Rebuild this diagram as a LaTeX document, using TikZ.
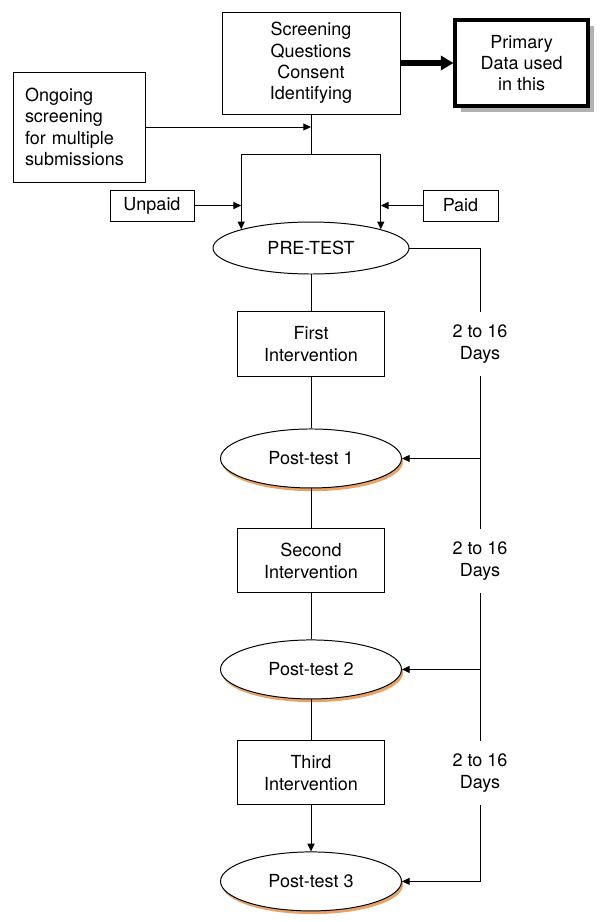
\documentclass[tikz,border=0pt]{standalone}
\usepackage{fontspec}
\setmainfont{TeX Gyre Heros}
\usetikzlibrary{positioning,shapes.geometric,arrows.meta,shadows,calc}

\definecolor{testshade}{RGB}{233,163,100}

\begin{document}
\begin{tikzpicture}[
    font=\fontsize{12.8pt}{15.2pt}\selectfont,
    box/.style={rectangle, draw=black, line width=0.7pt, align=center, inner sep=2pt},
    stage/.style={box, minimum width=3.675cm, minimum height=1.6cm},
    test/.style={ellipse, draw=black, line width=0.7pt, fill=white, minimum width=4.525cm, minimum height=1.475cm,
        drop shadow={shadow xshift=0.04cm, shadow yshift=-0.08cm, fill=testshade, opacity=1}},
    days/.style={align=center, minimum height=1.6cm, inner sep=0pt},
    arrow/.style={-{Triangle[length=5.5pt,width=5pt]}, line width=0.7pt},
    bigarrow/.style={-{Triangle[length=9pt,width=10pt]}, line width=4pt}
]
    \useasboundingbox (0,0) rectangle (15,-23.05);

    \node[box, minimum width=4.45cm, minimum height=2.55cm] (screen) at (7.775,-1.575) {
        Screening\\Questions\\Consent\\Identifying
    };

    \node[box, line width=2.4pt, fill=white, minimum width=3.325cm, minimum height=2.15cm,
        drop shadow={shadow xshift=0.14cm, shadow yshift=-0.14cm, fill=gray!60, opacity=1},
        right=1.325cm of screen] (primary) {
        Primary\\Data used\\in this
    };

    \node[box, align=left, text width=2.7cm, inner xsep=0.3cm, minimum height=2.75cm] (ongoing) at (1.975,-3.175) {
        Ongoing\\screening\\for multiple\\submissions
    };

    \node[box, minimum width=2.1cm, minimum height=0.775cm] (unpaid) at (3.8,-5.1375) {Unpaid};
    \node[box, minimum width=1.875cm, minimum height=0.775cm] (paid) at (11.5125,-5.1375) {Paid};

    \node[ellipse, draw=black, line width=0.7pt, minimum width=4.9cm, minimum height=1.3cm] (pretest) at (7.775,-6.2) {PRE-TEST};

    \node[stage, below=0.925cm of pretest] (first) {First\\Intervention};
    \node[test, below=1.3cm of first] (post1) {Post-test 1};
    \node[stage, below=1.0cm of post1] (second) {Second\\Intervention};
    \node[test, below=1.15cm of second] (post2) {Post-test 2};
    \node[stage, below=1.025cm of post2] (third) {Third\\Intervention};
    \node[test, below=1.15cm of third] (post3) {Post-test 3};

    % rail on the right
    \coordinate (rail) at (12,0);
    \node[days] (gap1) at (rail |- first) {2 to 16\\Days};
    \node[days] (gap2) at (rail |- second) {2 to 16\\Days};
    \node[days] (gap3) at (rail |- third) {2 to 16\\Days};

    \coordinate (split) at ($(screen.south)+(0,-1)$);

    \draw[bigarrow] (screen.east) -- (primary.west);
    \draw[arrow] (ongoing.east) -- (ongoing.east -| screen.south);
    \draw[line width=0.7pt] (screen.south) -- (split);
    \draw[arrow] (split) -| (pretest.165);
    \draw[arrow] (split) -| (pretest.15);
    \draw[arrow] (unpaid.east) -- (unpaid.east -| pretest.165);
    \draw[arrow] (paid.west) -- (paid.west -| pretest.15);

    \draw[line width=0.7pt] (pretest) -- (first);
    \draw[line width=0.7pt] (first) -- (post1);
    \draw[line width=0.7pt] (post1) -- (second);
    \draw[line width=0.7pt] (second) -- (post2);
    \draw[line width=0.7pt] (post2) -- (third);
    \draw[arrow] (third) -- (post3);

    \draw[line width=0.7pt] (pretest.east) -| (gap1.north);
    \draw[line width=0.7pt] (gap1.south) -- (gap2.north);
    \draw[line width=0.7pt] (gap2.south) -- (gap3.north);
    \draw[arrow] (gap3.south) |- (post3.east);
    \draw[arrow] (post1.east -| gap1.south) -- (post1.east);
    \draw[arrow] (post2.east -| gap2.south) -- (post2.east);
\end{tikzpicture}
\end{document}
